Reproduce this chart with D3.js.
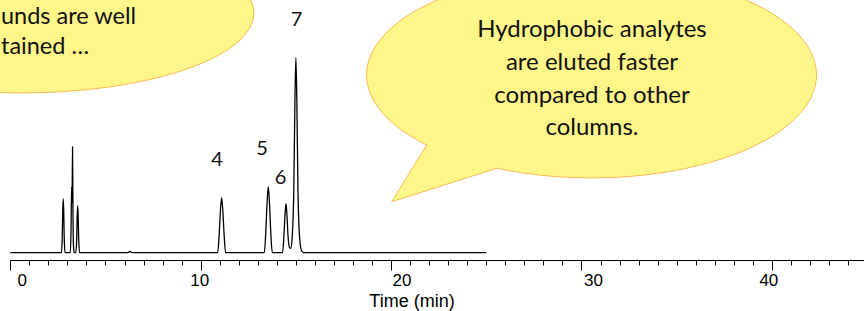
<!DOCTYPE html>
<html lang="en">
<head>
    <meta charset="utf-8">
    <title>Chromatogram</title>
    <style>
        body { margin: 0; background: #fff; }
        svg { display: block; }
    </style>
</head>
<body>
    <svg id="chart" width="864" height="311"></svg>
    <script src="https://cdn.jsdelivr.net/npm/d3@7"></script>
    <script>
        // trace (time in min, signal in arbitrary units)
        const traceTime = [
            0, 2.69, 2.73, 2.755, 2.78, 2.805, 2.83, 2.87,
            3.15, 3.19, 3.222, 3.245, 3.268, 3.29, 3.32, 3.36,
            3.44, 3.49, 3.515, 3.54, 3.565, 3.59, 3.64,
            6.18, 6.29, 6.4,
            10.89, 10.97, 11.04, 11.1, 11.16, 11.23, 11.31,
            13.34, 13.42, 13.49, 13.55, 13.61, 13.68, 13.76,
            14.30, 14.37, 14.43, 14.48, 14.53, 14.59, 14.67,
            14.73, 14.80, 14.89, 14.95, 15.0, 15.05, 15.11, 15.2, 15.3, 15.42,
            25
        ];
        const traceSignal = [
            0, 0, 17, 42, 54, 42, 17, 0,
            0, 22, 66, 50, 106, 45, 6, 0,
            0, 15, 37, 47, 37, 15, 0,
            0, 1.2, 0,
            0, 18, 43, 55, 43, 18, 0,
            0, 21, 51, 66, 51, 21, 0,
            0, 16, 38, 49, 38, 16, 5,
            4.4, 14, 62, 152, 195, 152, 62, 14, 2, 0,
            0
        ];

        const peakNames = ["4", "5", "6", "7"];
        const peakLabelTime = [10.86, 13.22, 14.2, 15.04];
        const peakLabelSignal = [87, 97.7, 68.7, 226.7];

        const xTicks = [0, 10, 20, 30, 40];
        const xTitle = "Time (min)";

        const leftNote = ["unds are well", "tained \u2026"];
        const rightNote = ["Hydrophobic analytes", "are eluted faster", "compared to other", "columns."];

        const svg = d3.select("#chart");
        const width = +svg.attr("width");

        const x = d3.scaleLinear().domain([0, 44.84]).range([10.3, width]);
        const y = d3.scaleLinear().domain([0, 200]).range([252.7, 52.7]);
        const axisY = 260.5;

        const bubbleFill = "#fff68a";
        const bubbleStroke = "#f2a93a";
        const noteFont = "Lato, 'Open Sans', sans-serif";

        // left speech bubble, mostly off the page
        svg.append("ellipse")
            .attr("cx", 20).attr("cy", 13)
            .attr("rx", 234).attr("ry", 80)
            .attr("fill", bubbleFill)
            .attr("stroke", bubbleStroke)
            .attr("stroke-width", 0.8);

        svg.append("g")
            .selectAll("text")
            .data(leftNote)
            .join("text")
                .attr("x", 1)
                .attr("y", (d, i) => 24 + i * 30)
                .attr("font-family", noteFont)
                .attr("font-size", 23.5)
                .attr("fill", "#111")
                .text(d => d);

        // right speech bubble with its pointer
        const rx = 225, ry = 103;
        const tailA = [426.7, 145], tip = [391.7, 201.7], tailB = [496.7, 168.3];
        svg.append("path")
            .attr("d", `M${tailA} L${tip} L${tailB} A${rx},${ry} 0 1 0 ${tailA} Z`)
            .attr("fill", bubbleFill)
            .attr("stroke", bubbleStroke)
            .attr("stroke-width", 0.8);

        svg.append("g")
            .selectAll("text")
            .data(rightNote)
            .join("text")
                .attr("x", 592)
                .attr("y", (d, i) => 37 + i * 32.8)
                .attr("text-anchor", "middle")
                .attr("font-family", noteFont)
                .attr("font-size", 24)
                .attr("fill", "#111")
                .text(d => d);

        // chromatogram
        const line = d3.line()
            .x((d, i) => x(traceTime[i]))
            .y(d => y(d))
            .curve(d3.curveMonotoneX);

        svg.append("path")
            .attr("d", line(traceSignal))
            .attr("fill", "none")
            .attr("stroke", "#000")
            .attr("stroke-width", 1.3)
            .attr("stroke-linejoin", "round");

        svg.append("g")
            .selectAll("text")
            .data(peakNames)
            .join("text")
                .attr("x", (d, i) => x(peakLabelTime[i]))
                .attr("y", (d, i) => y(peakLabelSignal[i]))
                .attr("text-anchor", "middle")
                .attr("font-family", noteFont)
                .attr("font-size", 20)
                .attr("fill", "#111")
                .text(d => d);

        // time axis
        const axis = svg.append("g").attr("transform", `translate(0,${axisY})`);
        axis.append("line")
            .attr("x1", x(0)).attr("x2", width)
            .attr("stroke", "#000");

        axis.append("g")
            .selectAll("line")
            .data(d3.range(0, 45))
            .join("line")
                .attr("x1", d => Math.round(x(d)) + 0.5)
                .attr("x2", d => Math.round(x(d)) + 0.5)
                .attr("y2", d => d % 10 === 0 ? 10 : 5)
                .attr("stroke", "#000");

        // the labels in the picture sit a little off their ticks
        const labelShift = {0: 12, 10: -1, 20: 11, 30: 12, 40: -3};
        axis.append("g")
            .selectAll("text")
            .data(xTicks)
            .join("text")
                .attr("x", d => x(d) + labelShift[d])
                .attr("y", 25.2)
                .attr("text-anchor", "middle")
                .attr("font-family", "'Liberation Sans', Arial, sans-serif")
                .attr("font-size", 17)
                .text(d => d);

        svg.append("text")
            .attr("x", 412)
            .attr("y", 306.5)
            .attr("text-anchor", "middle")
            .attr("font-family", "'Liberation Sans', Arial, sans-serif")
            .attr("font-size", 18)
            .text(xTitle);
    </script>
</body>
</html>
